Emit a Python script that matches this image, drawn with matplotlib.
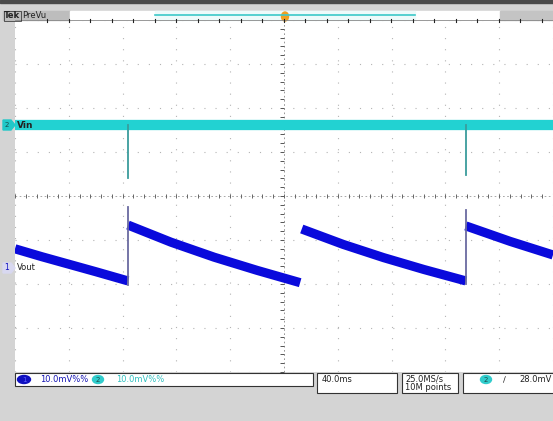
import numpy as np
import matplotlib
matplotlib.use("Agg")
import matplotlib.pyplot as plt
from matplotlib.patches import Rectangle, Ellipse, Polygon

# ---- data (in graticule divisions: x 0..10, y -4..4) ----
vin_level = 1.61
vin_x = [0.0, 10.0]
vin_spike_x = [2.10, 8.38]
vin_spike_bottom = [0.41, 0.48]

vout_seg1_x = [0.0, 0.5, 1.0, 1.5, 2.10]
vout_seg1_y = [-1.20, -1.38, -1.55, -1.72, -1.93]
vout_seg2_x = [2.10, 2.9, 3.7, 4.5, 5.30]
vout_seg2_y = [-0.66, -1.05, -1.39, -1.69, -1.97]
vout_seg3_x = [5.33, 6.10, 6.85, 7.60, 8.38]
vout_seg3_y = [-0.75, -1.10, -1.40, -1.67, -1.93]
vout_seg4_x = [8.38, 9.2, 10.0]
vout_seg4_y = [-0.68, -1.03, -1.34]
vout_jump_x = [2.10, 8.38]
vout_jump_top = [-0.25, -0.32]
vout_jump_bottom = [-2.02, -2.00]

ch1_scale = "10.0mV%%"
ch2_scale = "10.0mV%%"
timebase = "40.0ms"
sample_rate = "25.0MS/s"
record_len = "10M points"
trigger_level = "28.0mV"

W, H = 553, 421
BG = "#d4d4d4"
fig = plt.figure(figsize=(W / 100, H / 100), dpi=100, facecolor=BG)

# main graticule axes
ax = fig.add_axes([15 / W, 49 / H, 538 / W, 352 / H])
ax.set_facecolor("white")
ax.set_xlim(0, 10)
ax.set_ylim(-4, 4)
ax.set_xticks([])
ax.set_yticks([])
for s in ax.spines.values():
    s.set_visible(False)

grid_col = "#b4b4b4"
for i in range(11):
    if i != 5:
        ax.axvline(i, color=grid_col, lw=0.8, ls=(0, (1, 9)), zorder=1)
for j in range(-4, 5):
    if j != 0:
        ax.axhline(j, color=grid_col, lw=0.8, ls=(0, (1, 9)), zorder=1)
# center cross with minor ticks
ax.axvline(5, color="#888888", lw=0.6, ls=(0, (2, 3)), zorder=1)
ax.axhline(0, color="#999999", lw=0.6, ls=(0, (2, 3)), zorder=1)
mt = np.arange(-4, 4.01, 0.2)
ax.plot([4.97] * len(mt), mt, ls="none", marker="_", ms=3, color="#555555", mew=0.7, zorder=1)
mx = np.arange(0, 10.01, 0.2)
ax.plot(mx, [0] * len(mx), ls="none", marker="|", ms=2.5, color="#666666", mew=0.7, zorder=1)

# Vin trace
ax.plot(vin_x, [vin_level] * 2, color="#22d2d2", lw=7.4, solid_capstyle="butt", zorder=3)
for sx, sb in zip(vin_spike_x, vin_spike_bottom):
    ax.plot([sx, sx], [vin_level, sb], color="#3a9c9c", lw=1.3, zorder=3)

# Vout trace
for xs, ys in [(vout_seg1_x, vout_seg1_y), (vout_seg2_x, vout_seg2_y),
               (vout_seg3_x, vout_seg3_y), (vout_seg4_x, vout_seg4_y)]:
    ax.plot(xs, ys, color="#0a0adc", lw=6.6, solid_capstyle="butt", zorder=4)
for jx, jt, jb in zip(vout_jump_x, vout_jump_top, vout_jump_bottom):
    ax.plot([jx, jx], [jt, jb], color="#6a6aa0", lw=1.3, zorder=5)

# overlay axes in pixel coordinates
ov = fig.add_axes([0, 0, 1, 1], zorder=5)
ov.set_xlim(0, W)
ov.set_ylim(H, 0)
ov.axis("off")
ov.patch.set_alpha(0)

# top dark strip
ov.add_patch(Rectangle((0, 0), W, 3, color="#4a4a4a"))
# top record bar
ov.add_patch(Rectangle((3, 11), 67, 9, color="#bdbdbd"))
ov.add_patch(Rectangle((70, 11), 430, 9, color="white"))
ov.add_patch(Rectangle((155, 11), 260, 9, color="#eefafa"))
ov.plot([155, 415], [14.5, 14.5], color="#3cc8c8", lw=1.2)
ov.add_patch(Rectangle((500, 11), 53, 9, color="#c4c4c4"))
ov.plot([15, W], [20, 20], color="#888888", lw=0.6)
for tx in np.arange(47, 553, 21.5):
    ov.plot([tx, tx], [19, 21.5], color="#222222", lw=0.8)
ov.add_patch(Ellipse((285, 16.5), 7, 9, color="#f0a020"))
ov.text(4, 16, "Tek", fontsize=6, fontweight="bold", va="center", ha="left", color="#222222",
        bbox=dict(boxstyle="square,pad=0.05", fc="none", ec="#222222", lw=0.5))
ov.text(22, 16, "PreVu", fontsize=6, va="center", ha="left", color="#222222")

# channel markers
ov.add_patch(Polygon([[3, 120], [11, 120], [15, 125], [11, 130], [3, 130]], color="#22c8c8"))
ov.text(7, 125, "2", fontsize=5, va="center", ha="center", color="#1a4a4a")
ov.text(17, 125, "Vin", fontsize=6.5, fontweight="bold", va="center", ha="left", color="#222222")
ov.add_patch(Polygon([[3, 263], [11, 263], [15, 268], [11, 273], [3, 273]], color="#d8d8f0"))
ov.text(7, 268, "1", fontsize=5.5, va="center", ha="center", color="#1010c0")
ov.text(17, 268, "Vout", fontsize=6, va="center", ha="left", color="#222222")

# status bar
ov.add_patch(Rectangle((15, 373), 298, 13, fc="white", ec="#333333", lw=0.8))
ov.add_patch(Ellipse((24, 379.5), 13, 8, color="#1010c0"))
ov.text(24, 379.5, "1", fontsize=5, va="center", ha="center", color="#6060ff")
ov.text(40, 379.5, ch1_scale, fontsize=6, va="center", ha="left", color="#1414b4")
ov.add_patch(Ellipse((98, 379.5), 11, 8, color="#30cccc"))
ov.text(98, 379.5, "2", fontsize=5, va="center", ha="center", color="#1a4a4a")
ov.text(116, 379.5, ch2_scale, fontsize=6, va="center", ha="left", color="#30c0c0")

ov.add_patch(Rectangle((317, 373), 80, 20, fc="white", ec="#333333", lw=0.8))
ov.text(322, 379.5, timebase, fontsize=6, va="center", ha="left", color="#222222")
ov.add_patch(Rectangle((402, 373), 56, 20, fc="white", ec="#333333", lw=0.8))
ov.text(405, 378.5, sample_rate, fontsize=6, va="center", ha="left", color="#222222")
ov.text(405, 387, record_len, fontsize=6, va="center", ha="left", color="#222222")
ov.add_patch(Rectangle((463, 373), 92, 20, fc="white", ec="#333333", lw=0.8))
ov.add_patch(Ellipse((486, 379.5), 11, 8, color="#30cccc"))
ov.text(486, 379.5, "2", fontsize=5, va="center", ha="center", color="#1a4a4a")
ov.text(503, 379.5, "\u2215", fontsize=6, va="center", ha="left", color="#222222")
ov.text(519, 379.5, trigger_level, fontsize=6, va="center", ha="left", color="#222222")

fig.savefig("out.png", dpi=100, facecolor=BG)
